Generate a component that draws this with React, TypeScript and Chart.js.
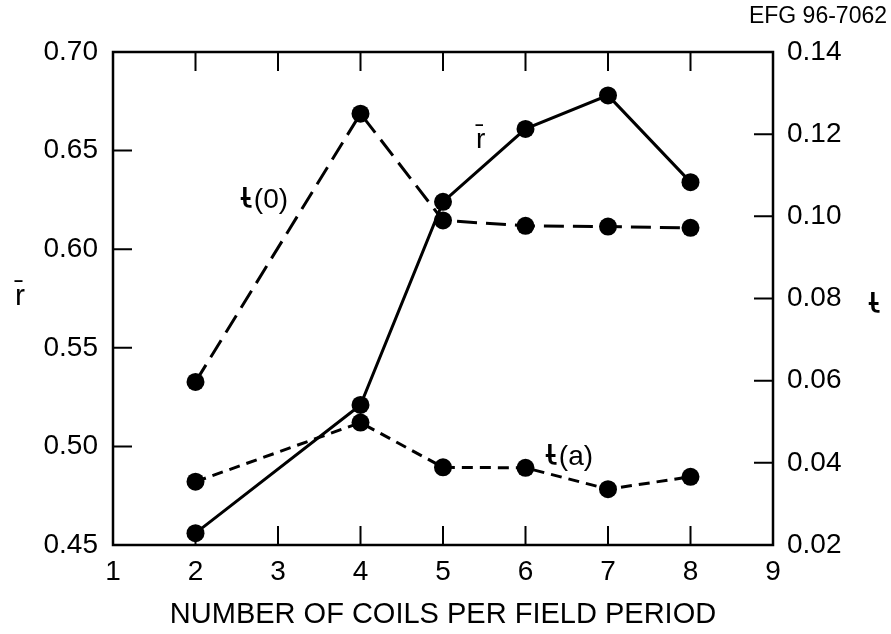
import React, { useEffect, useRef } from "react";
import { Chart, registerables } from "chart.js";

Chart.register(...registerables);

const coils = [2, 4, 5, 6, 7, 8];
const rBar = [0.456, 0.521, 0.624, 0.661, 0.678, 0.634];
const iota0 = [0.0597, 0.125, 0.099, 0.0977, 0.0975, 0.0972];
const iotaA = [0.0354, 0.0498, 0.0389, 0.0388, 0.0336, 0.0366];

const xTitle = "NUMBER OF COILS PER FIELD PERIOD";
const leftTitle = "r\u0304";
const iotaSym = "\u03B9\u0335";
const figId = "EFG 96-7062";
const labelR = "r\u0304";
const suffixI0 = "(0)";
const suffixIA = "(a)";

const FONT = "'Liberation Sans', Arial, Helvetica, sans-serif";
const SYMFONT = "'DejaVu Sans', sans-serif";

function drawIota(ctx: any, x: number, y: number, suffix: string) {
  ctx.textAlign = "left";
  ctx.textBaseline = "alphabetic";
  ctx.font = `38px ${SYMFONT}`;
  ctx.fillText(iotaSym, x, y);
  const w = ctx.measureText(iotaSym).width;
  if (suffix) {
    ctx.font = `28px ${FONT}`;
    ctx.fillText(suffix, x + w + 1, y);
  }
}

const framePlugin = {
  id: "framePlugin",
  afterDraw(chart: any) {
    const ctx = chart.ctx;
    const a = chart.chartArea;
    const x = chart.scales.x;
    const y = chart.scales.y;
    const y2 = chart.scales.y2;
    ctx.save();
    ctx.strokeStyle = "#000";
    ctx.lineWidth = 2.5;
    ctx.strokeRect(a.left, a.top, a.right - a.left, a.bottom - a.top);
    const tl = 19;
    ctx.lineWidth = 2;
    ctx.beginPath();
    x.ticks.forEach((t: any) => {
      const px = x.getPixelForValue(t.value);
      if (px <= a.left + 1 || px >= a.right - 1) return;
      ctx.moveTo(px, a.bottom);
      ctx.lineTo(px, a.bottom - tl);
      ctx.moveTo(px, a.top);
      ctx.lineTo(px, a.top + tl);
    });
    y.ticks.forEach((t: any) => {
      const py = y.getPixelForValue(t.value);
      if (py <= a.top + 1 || py >= a.bottom - 1) return;
      ctx.moveTo(a.left, py);
      ctx.lineTo(a.left + tl, py);
    });
    y2.ticks.forEach((t: any) => {
      const py = y2.getPixelForValue(t.value);
      if (py <= a.top + 1 || py >= a.bottom - 1) return;
      ctx.moveTo(a.right, py);
      ctx.lineTo(a.right - tl, py);
    });
    ctx.stroke();

    ctx.fillStyle = "#000";
    ctx.textBaseline = "middle";
    ctx.textAlign = "center";
    ctx.font = `29px ${FONT}`;
    ctx.fillText(xTitle, (a.left + a.right) / 2, 615);
    ctx.font = `30px ${FONT}`;
    ctx.fillText(leftTitle, 20, 297);
    ctx.textAlign = "right";
    ctx.font = `23px ${FONT}`;
    ctx.fillText(figId, 887, 17);
    ctx.textAlign = "left";
    ctx.font = `28px ${FONT}`;
    ctx.fillText(labelR, 476, 140);
    drawIota(ctx, 868, 313, "");
    drawIota(ctx, 240, 208, suffixI0);
    drawIota(ctx, 545, 465, suffixIA);
    ctx.restore();
  },
};

export default function App() {
  const ref = useRef<HTMLCanvasElement | null>(null);
  useEffect(() => {
    if (!ref.current) return;
    const pts = (vals: number[]) => coils.map((c, i) => ({ x: c, y: vals[i] }));
    const tickFont = { family: FONT, size: 28 };
    const chart = new Chart(ref.current, {
      type: "line",
      data: {
        datasets: [
          {
            label: "r",
            data: pts(rBar),
            yAxisID: "y",
            borderColor: "#000",
            backgroundColor: "#000",
            borderWidth: 3,
            pointRadius: 9,
            pointBackgroundColor: "#000",
            pointBorderWidth: 0,
            tension: 0,
          },
          {
            label: "iota0",
            data: pts(iota0),
            yAxisID: "y2",
            borderColor: "#000",
            backgroundColor: "#000",
            borderWidth: 3,
            borderDash: [20, 9],
            pointRadius: 9,
            pointBackgroundColor: "#000",
            pointBorderWidth: 0,
            tension: 0,
          },
          {
            label: "iotaA",
            data: pts(iotaA),
            yAxisID: "y2",
            borderColor: "#000",
            backgroundColor: "#000",
            borderWidth: 3,
            borderDash: [11, 7],
            pointRadius: 9,
            pointBackgroundColor: "#000",
            pointBorderWidth: 0,
            tension: 0,
          },
        ],
      },
      options: {
        responsive: false,
        animation: false,
        layout: { padding: { top: 52, left: 0, right: 0, bottom: 0 } },
        plugins: { legend: { display: false }, tooltip: { enabled: false } },
        scales: {
          x: {
            type: "linear",
            min: 1,
            max: 9,
            grid: { display: false, drawTicks: false },
            border: { display: false },
            ticks: { stepSize: 1, color: "#000", font: tickFont, padding: 10, maxRotation: 0 },
            afterFit: (s: any) => {
              s.height = 89;
            },
          },
          y: {
            type: "linear",
            position: "left",
            min: 0.45,
            max: 0.7,
            grid: { display: false, drawTicks: false },
            border: { display: false },
            ticks: {
              stepSize: 0.05,
              color: "#000",
              font: tickFont,
              padding: 15,
              callback: (v: any) => Number(v).toFixed(2),
            },
            afterFit: (s: any) => {
              s.width = 113;
            },
          },
          y2: {
            type: "linear",
            position: "right",
            min: 0.02,
            max: 0.14,
            grid: { display: false, drawTicks: false },
            border: { display: false },
            ticks: {
              stepSize: 0.02,
              color: "#000",
              font: tickFont,
              padding: 14,
              callback: (v: any) => Number(v).toFixed(2),
            },
            afterFit: (s: any) => {
              s.width = 118;
            },
          },
        },
      },
      plugins: [framePlugin],
    } as any);
    return () => chart.destroy();
  }, []);
  return (
    <div style={{ position: "absolute", left: 0, top: 0, width: 891, height: 634, background: "#fff" }}>
      <canvas ref={ref} width={891} height={634} style={{ display: "block" }} />
    </div>
  );
}
